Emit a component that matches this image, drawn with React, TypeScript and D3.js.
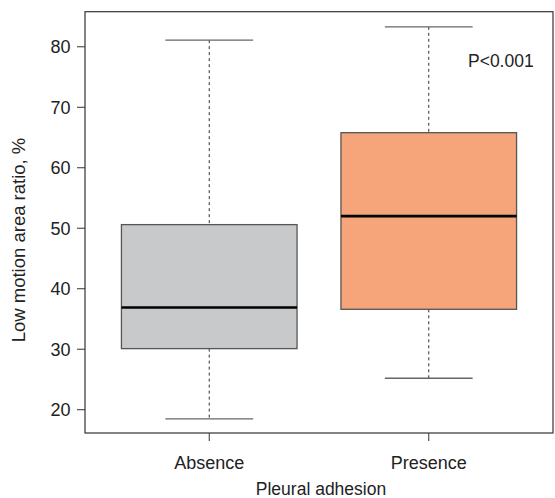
import React from "react";
import * as d3 from "d3";

const categories = ["Absence", "Presence"];
const whiskerMin = [18.5, 25.2];
const q1 = [30.1, 36.6];
const median = [36.9, 52.0];
const q3 = [50.6, 65.8];
const whiskerMax = [81.1, 83.3];
const fills = ["#c8c9cb", "#f6a47a"];
const yTicks = [20, 30, 40, 50, 60, 70, 80];

const W = 555;
const H = 498;
const left = 85;
const right = 553;
const top = 11.7;
const bottom = 433;
const font = "'Liberation Sans', Arial, Helvetica, sans-serif";

export default function App() {
  const y = d3.scaleLinear().domain([16.15, 85.8]).range([bottom, top]);
  const x = d3.scalePoint<string>().domain(categories).range([left, right]).padding(0.566);
  const step = x.step();
  const boxW = step * 0.8;
  const capW = boxW * 0.5;

  return (
    <svg width={W} height={H} style={{ position: "absolute", left: 0, top: 0, display: "block" }} fontFamily={font}>
      <rect x={0} y={0} width={W} height={H} fill="#ffffff" />
      {categories.map((c, i) => {
        const cx = x(c)!;
        return (
          <g key={c}>
            <line x1={cx} x2={cx} y1={y(whiskerMax[i])} y2={y(q3[i])} stroke="#333" strokeWidth={1} strokeDasharray="3,3" />
            <line x1={cx} x2={cx} y1={y(q1[i])} y2={y(whiskerMin[i])} stroke="#333" strokeWidth={1} strokeDasharray="3,3" />
            <line x1={cx - capW / 2} x2={cx + capW / 2} y1={y(whiskerMax[i])} y2={y(whiskerMax[i])} stroke="#666" strokeWidth={1.3} />
            <line x1={cx - capW / 2} x2={cx + capW / 2} y1={y(whiskerMin[i])} y2={y(whiskerMin[i])} stroke="#666" strokeWidth={1.3} />
            <rect x={cx - boxW / 2} y={y(q3[i])} width={boxW} height={y(q1[i]) - y(q3[i])} fill={fills[i]} stroke="#555" strokeWidth={1.3} />
            <line x1={cx - boxW / 2} x2={cx + boxW / 2} y1={y(median[i])} y2={y(median[i])} stroke="#000" strokeWidth={2.6} />
          </g>
        );
      })}
      <rect x={left} y={top} width={right - left} height={bottom - top} fill="none" stroke="#333" strokeWidth={1.2} />
      {yTicks.map((t) => (
        <g key={t}>
          <line x1={left - 8} x2={left} y1={y(t)} y2={y(t)} stroke="#333" strokeWidth={1} />
          <text x={70.5} y={y(t)} dy="0.36em" textAnchor="end" fontSize={18} fill="#222">{t}</text>
        </g>
      ))}
      {categories.map((c) => (
        <g key={"t" + c}>
          <line x1={x(c)!} x2={x(c)!} y1={bottom} y2={bottom + 8} stroke="#333" strokeWidth={1} />
          <text x={x(c)!} y={469} textAnchor="middle" fontSize={18} fill="#222">{c}</text>
        </g>
      ))}
      <text x={321} y={495} textAnchor="middle" fontSize={17.5} fill="#222">Pleural adhesion</text>
      <text transform={`translate(25,240) rotate(-90)`} textAnchor="middle" fontSize={18.5} fill="#222">Low motion area ratio, %</text>
      <text x={468} y={67} fontSize={17.5} fill="#222">P&lt;0.001</text>
    </svg>
  );
}
